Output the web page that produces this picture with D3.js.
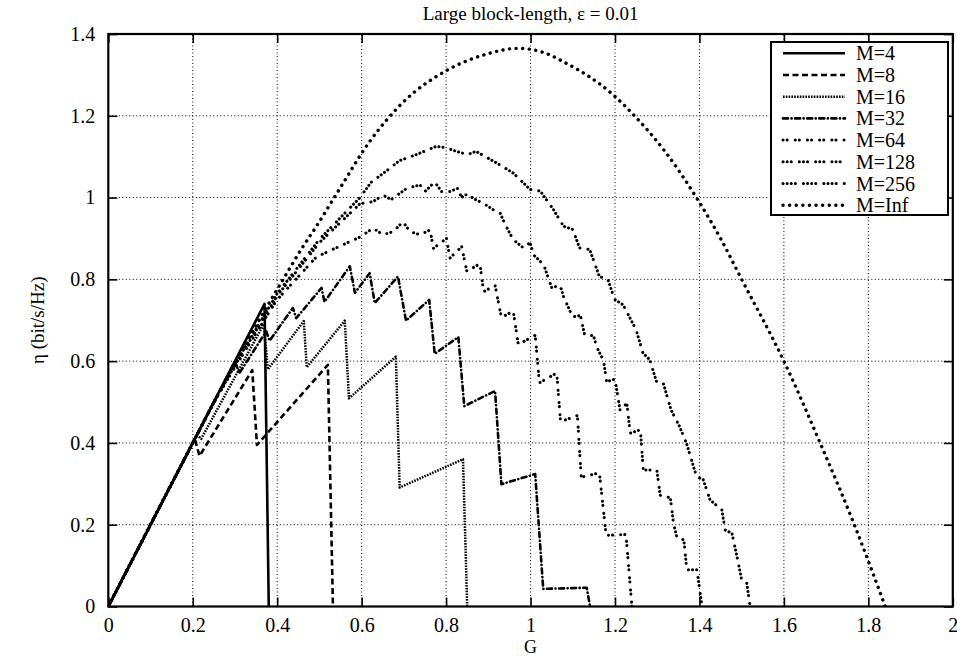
<!DOCTYPE html>
<html>
<head>
<meta charset="utf-8">
<script src="https://cdn.jsdelivr.net/npm/d3@7"></script>
<style>
  body { margin: 0; background: #fff; }
  text { font-family: "Liberation Serif", "DejaVu Serif", serif; fill: #000; }
</style>
</head>
<body>
<script>
// values, [G, eta]
var m4 = [[0,0],[0.37,0.74],[0.38,0]];
var m8 = [[0,0],[0.205,0.41],[0.216,0.368],[0.341,0.578],[0.352,0.395],[0.52,0.591],[0.532,0]];
var m16 = [[0,0],[0.21,0.42],[0.22,0.41],[0.368,0.69],[0.378,0.58],[0.463,0.698],[0.47,0.585],
           [0.56,0.699],[0.57,0.509],[0.681,0.611],[0.69,0.291],[0.84,0.36],[0.85,0]];
var m32 = [[0,0],[0.3,0.6],[0.31,0.57],[0.374,0.673],[0.382,0.65],[0.437,0.73],[0.445,0.705],
           [0.505,0.779],[0.512,0.745],[0.572,0.832],[0.584,0.767],[0.619,0.815],[0.631,0.742],
           [0.686,0.807],[0.705,0.699],[0.76,0.75],[0.773,0.618],[0.829,0.659],[0.843,0.49],
           [0.916,0.527],[0.931,0.299],[1.011,0.324],[1.03,0.043],[1.133,0.046],[1.141,0]];
var m64 = [[0,0],[0.25,0.5],[0.3,0.585],[0.398,0.748],[0.493,0.855],[0.597,0.904],[0.627,0.925],
           [0.651,0.909],[0.675,0.917],[0.698,0.941],[0.714,0.917],[0.738,0.909],[0.762,0.921],
           [0.77,0.876],[0.801,0.9],[0.809,0.852],[0.837,0.88],[0.849,0.82],[0.88,0.838],
           [0.889,0.77],[0.916,0.785],[0.931,0.707],[0.959,0.722],[0.971,0.641],[1.011,0.663],
           [1.021,0.547],[1.062,0.571],[1.071,0.452],[1.111,0.467],[1.12,0.316],[1.163,0.327],
           [1.179,0.174],[1.226,0.176],[1.24,0]];
var m128 = [[0,0],[0.25,0.5],[0.3,0.59],[0.4,0.76],[0.5,0.89],[0.596,0.985],[0.627,0.99],
            [0.651,1.006],[0.67,0.995],[0.706,1.022],[0.738,1.031],[0.75,1.015],[0.773,1.038],
            [0.789,1.015],[0.809,1.015],[0.829,1.023],[0.836,1.0],[0.852,1.01],[0.864,0.998],
            [0.888,0.986],[0.912,0.97],[0.928,0.962],[0.94,0.934],[0.959,0.897],[0.983,0.877],
            [0.999,0.89],[1.007,0.86],[1.031,0.836],[1.05,0.78],[1.07,0.785],[1.079,0.755],
            [1.1,0.708],[1.118,0.712],[1.128,0.665],[1.149,0.662],[1.157,0.634],[1.173,0.601],
            [1.18,0.55],[1.2,0.556],[1.212,0.48],[1.228,0.497],[1.236,0.424],[1.26,0.432],
            [1.267,0.334],[1.299,0.334],[1.307,0.272],[1.331,0.266],[1.339,0.2],[1.347,0.168],
            [1.363,0.163],[1.37,0.09],[1.394,0.09],[1.406,0]];
var m256 = [[0,0],[0.25,0.5],[0.3,0.592],[0.4,0.765],[0.5,0.898],[0.596,1.0],[0.622,1.037],
            [0.665,1.07],[0.689,1.09],[0.729,1.105],[0.776,1.125],[0.8,1.122],[0.824,1.113],
            [0.851,1.105],[0.871,1.113],[0.919,1.085],[0.959,1.06],[0.999,1.02],[1.023,1.016],
            [1.054,0.971],[1.078,0.93],[1.1,0.922],[1.116,0.877],[1.14,0.873],[1.163,0.807],
            [1.183,0.8],[1.199,0.751],[1.219,0.738],[1.25,0.677],[1.266,0.62],[1.282,0.604],
            [1.298,0.551],[1.314,0.547],[1.333,0.48],[1.353,0.44],[1.369,0.4],[1.393,0.318],
            [1.409,0.31],[1.425,0.261],[1.453,0.236],[1.461,0.187],[1.477,0.179],[1.489,0.122],
            [1.5,0.065],[1.512,0.057],[1.52,0]];
var mInf = [[0,0],[0.2,0.4],[0.3,0.595],[0.414,0.8],[0.461,0.88],[0.493,0.93],[0.544,1.015],
            [0.619,1.137],[0.7,1.235],[0.8,1.31],[0.9,1.352],[0.97,1.365],[1.03,1.355],
            [1.078,1.332],[1.197,1.25],[1.248,1.198],[1.319,1.112],[1.394,0.998],[1.45,0.9],
            [1.5,0.8],[1.6,0.6],[1.687,0.397],[1.766,0.202],[1.84,0]];

var seriesNames = ["M=4", "M=8", "M=16", "M=32", "M=64", "M=128", "M=256", "M=Inf"];
var seriesData = [m4, m8, m16, m32, m64, m128, m256, mInf];
var xTicks = [0, 0.2, 0.4, 0.6, 0.8, 1, 1.2, 1.4, 1.6, 1.8, 2];
var yTicks = [0, 0.2, 0.4, 0.6, 0.8, 1, 1.2, 1.4];

// SVG Dimensions
var width = 957;
var height = 657;
var margins = { left: 108.3, right: 4.2, top: 34, bottom: 50.5 };

// line looks, one per series
var lineStyles = [
    { w: 2.6, dash: null, cap: "butt" },
    { w: 2.6, dash: "6,3.5", cap: "butt" },
    { w: 2.5, dash: "1.6,1.2", cap: "butt" },
    { w: 2.6, dash: "5,3.5,0.1,3.5", cap: "round" },
    { w: 3, dash: "0.1,4,0.1,8", cap: "round" },
    { w: 3, dash: "0.1,4,0.1,4,0.1,8", cap: "round" },
    { w: 3, dash: "0.1,4,0.1,4,0.1,4,0.1,8", cap: "round" },
    { w: 3.4, dash: "0.1,6.5", cap: "round" }
];

var svg = d3.select("body").append("svg")
            .attr("width", width)
            .attr("height", height);

var x = d3.scaleLinear().domain([0, 2]).range([margins.left, width - margins.right]);
var y = d3.scaleLinear().domain([0, 1.4]).range([height - margins.bottom, margins.top]);

svg.append("clipPath").attr("id", "plotclip")
    .append("rect")
    .attr("x", x(0)).attr("y", y(1.4))
    .attr("width", x(2) - x(0)).attr("height", y(0) - y(1.4));

// dotted grid
var grid = svg.append("g").attr("stroke", "#000").attr("stroke-width", 1).attr("stroke-dasharray", "1,2.5");
grid.selectAll(".gx").data(xTicks.slice(1, -1)).enter().append("line")
    .attr("x1", d => x(d)).attr("x2", d => x(d))
    .attr("y1", y(0)).attr("y2", y(1.4));
grid.selectAll(".gy").data(yTicks.slice(1, -1)).enter().append("line")
    .attr("x1", x(0)).attr("x2", x(2))
    .attr("y1", d => y(d)).attr("y2", d => y(d));

// axes with inward ticks on all four sides
var tl = 9;
svg.append("g").attr("transform", "translate(0," + y(0) + ")")
    .call(d3.axisBottom(x).tickValues(xTicks).tickSize(-tl).tickPadding(11).tickFormat(d3.format("")));
svg.append("g").attr("transform", "translate(0," + y(1.4) + ")")
    .call(d3.axisTop(x).tickValues(xTicks).tickSize(-tl).tickFormat(""));
svg.append("g").attr("transform", "translate(" + x(0) + ",0)")
    .call(d3.axisLeft(y).tickValues(yTicks).tickSize(-tl).tickPadding(13).tickFormat(d3.format("")));
svg.append("g").attr("transform", "translate(" + x(2) + ",0)")
    .call(d3.axisRight(y).tickValues(yTicks).tickSize(-tl).tickFormat(""));

svg.selectAll(".domain").remove();
svg.selectAll(".tick line").attr("stroke", "#000").attr("stroke-width", 1.6);
svg.selectAll(".tick text").attr("font-size", "20px").attr("font-family", "Liberation Serif");

// curves
var line = d3.line().x(d => x(d[0])).y(d => y(d[1]));
var curves = svg.append("g").attr("clip-path", "url(#plotclip)");
seriesData.forEach(function(data, i) {
    var st = lineStyles[i];
    curves.append("path")
        .datum(data)
        .attr("d", i === 7 ? line.curve(d3.curveMonotoneX)(data) : line.curve(d3.curveLinear)(data))
        .attr("fill", "none")
        .attr("stroke", "#000")
        .attr("stroke-width", st.w)
        .attr("stroke-linecap", st.cap)
        .attr("stroke-linejoin", "round")
        .attr("stroke-dasharray", st.dash);
});

// frame
svg.append("rect")
    .attr("x", x(0)).attr("y", y(1.4))
    .attr("width", x(2) - x(0)).attr("height", y(0) - y(1.4))
    .attr("fill", "none").attr("stroke", "#000").attr("stroke-width", 2.2);

// legend
var lg = svg.append("g");
lg.append("rect")
    .attr("x", 771).attr("y", 42).attr("width", 177).attr("height", 173)
    .attr("fill", "#fff").attr("stroke", "#000").attr("stroke-width", 2);
seriesNames.forEach(function(name, i) {
    var st = lineStyles[i];
    var ly = 53.3 + i * 21.7;
    lg.append("line")
        .attr("x1", 783).attr("x2", 845).attr("y1", ly).attr("y2", ly)
        .attr("stroke", "#000").attr("stroke-width", st.w)
        .attr("stroke-linecap", st.cap)
        .attr("stroke-dasharray", st.dash);
    lg.append("text")
        .attr("x", 856).attr("y", ly + 7)
        .attr("font-size", "20px")
        .text(name);
});

// titles
svg.append("text")
    .attr("x", (x(0) + x(2)) / 2).attr("y", 20)
    .attr("text-anchor", "middle").attr("font-size", "19px")
    .text("Large block-length, \u03b5 = 0.01");
svg.append("text")
    .attr("x", (x(0) + x(2)) / 2).attr("y", 653)
    .attr("text-anchor", "middle").attr("font-size", "18px")
    .text("G");
svg.append("text")
    .attr("transform", "translate(44," + ((y(0) + y(1.4)) / 2) + ") rotate(-90)")
    .attr("text-anchor", "middle").attr("font-size", "19px")
    .text("\u03b7 (bit/s/Hz)");
</script>
</body>
</html>
